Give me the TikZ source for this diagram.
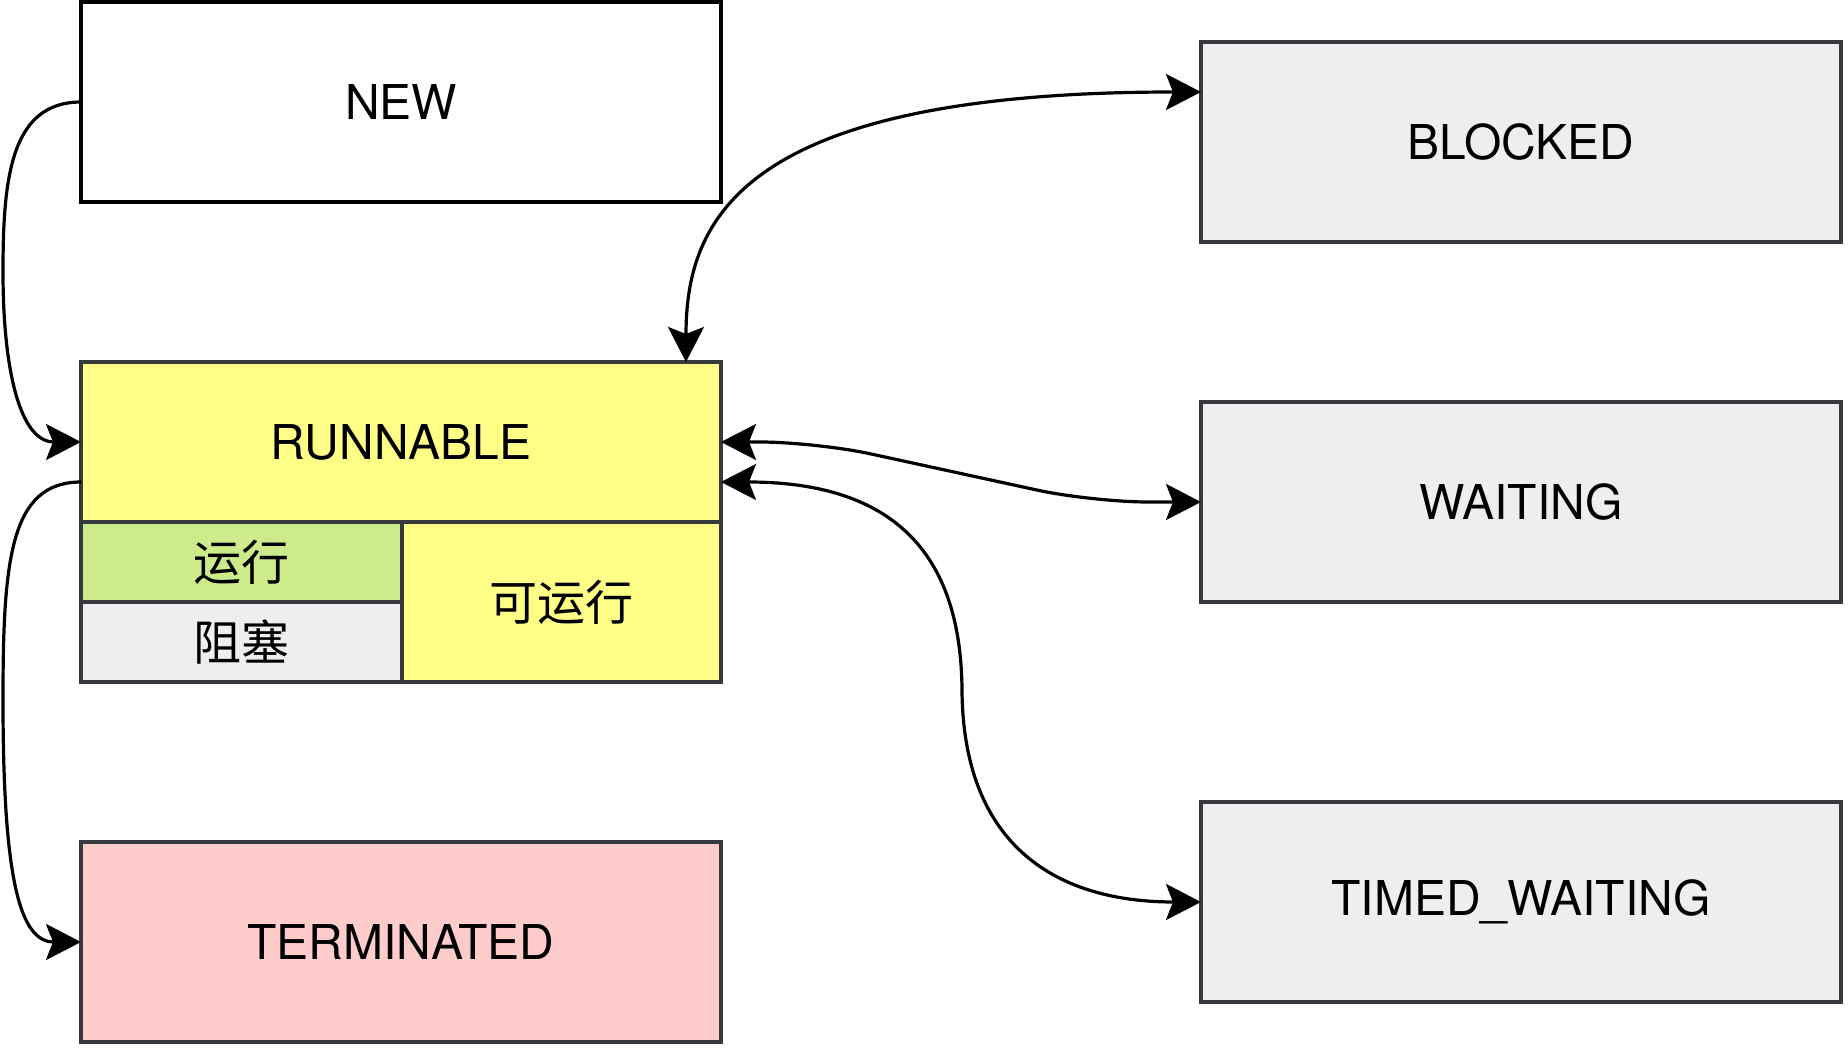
\documentclass[tikz,border=0pt]{standalone}
\usepackage{fontspec}
\setmainfont{TeX Gyre Heros}
\newfontfamily\cjk{Noto Sans CJK SC}
\usetikzlibrary{arrows.meta}
\definecolor{edgegray}{HTML}{36393D}
\definecolor{runyellow}{HTML}{FFFF88}
\definecolor{rungreen}{HTML}{CDEB8B}
\definecolor{boxgray}{HTML}{EEEEEE}
\definecolor{termpink}{HTML}{FFCCCC}

\begin{document}
\begin{tikzpicture}[x=0.5pt,y=-0.5pt,
  state/.style={draw=edgegray, line width=1.6pt, rectangle, inner sep=0pt, outer sep=0pt,
    minimum width=320pt, minimum height=100pt, font=\fontsize{24}{28}\selectfont, text=black},
  cell/.style={state, font=\cjk\fontsize{24}{28}\selectfont},
  link/.style={line width=1.6pt, draw=black},
  >={Stealth[length=17.5pt,width=18pt,inset=3.5pt]}
]
\useasboundingbox (0,0) rectangle (1848,1048);

% thread states
\node[state, draw=black, fill=white] (new) at (401,102) {NEW};
\node[state, fill=boxgray] (blocked) at (1521,142) {BLOCKED};
\node[state, fill=runyellow, minimum height=80pt] (run) at (401,442) {RUNNABLE};
\node[state, fill=boxgray] (wait) at (1521,502) {WAITING};
\node[state, fill=boxgray] (tw) at (1521,902) {TIMED\_WAITING};
\node[state, fill=termpink] (term) at (401,942) {TERMINATED};

% sub-states of RUNNABLE
\node[cell, fill=rungreen, minimum width=160.5pt, minimum height=40pt] (running) at (241.5,562) {运行};
\node[cell, fill=boxgray, minimum width=160.5pt, minimum height=40pt] (halted) at (241.5,642) {阻塞};
\node[cell, fill=runyellow, minimum width=159.5pt, minimum height=80pt] (ready) at (561.5,602) {可运行};

% transitions
\draw[link,->] (new.west) .. controls (10,102) and (3,180) .. (3,272)
  .. controls (3,370) and (20,442) .. (run.west);
\draw[link,->] ([yshift=-20pt]run.west) .. controls (10,482) and (3,560) .. (3,700)
  .. controls (3,880) and (20,942) .. (term.west);
\draw[link,<->] ([xshift=-17.5pt]run.north east) .. controls (686,220) and (740,92)
  .. ([yshift=25pt]blocked.west);
\draw[link,<->,rounded corners=28pt] (run.east) -- (816,442) -- (1092,502) -- (wait.west);
\draw[link,<->] ([yshift=-20pt]run.east) .. controls (900,482) and (961,560) .. (962,690)
  .. controls (963,840) and (1050,902) .. (tw.west);
\end{tikzpicture}
\end{document}
